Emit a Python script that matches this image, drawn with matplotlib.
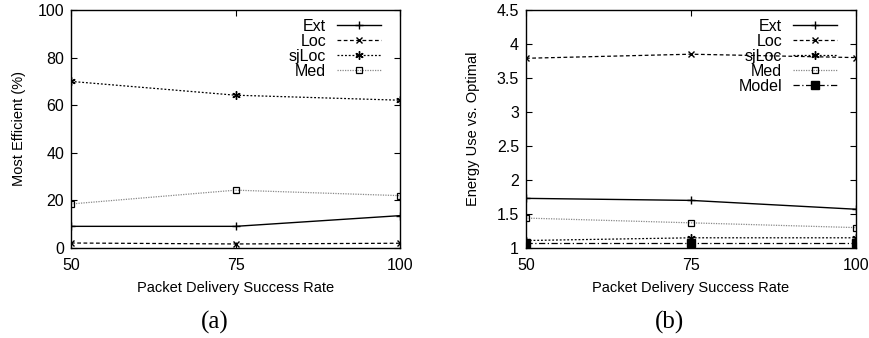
import matplotlib
matplotlib.use('Agg')
import matplotlib.pyplot as plt

rate = [50, 75, 100]

eff_ext = [9.1, 9.1, 13.6]
eff_loc = [2.1, 1.7, 2.0]
eff_sjloc = [70.0, 64.2, 62.1]
eff_med = [18.5, 24.3, 22.0]

en_ext = [1.73, 1.70, 1.57]
en_loc = [3.79, 3.85, 3.80]
en_sjloc = [1.11, 1.15, 1.15]
en_med = [1.44, 1.37, 1.30]
en_model = [1.07, 1.07, 1.07]

plt.rcParams['font.family'] = ['Liberation Sans', 'DejaVu Sans']
plt.rcParams['font.size'] = 10.5

fig = plt.figure(figsize=(8.7, 3.38), dpi=100)
ax1 = fig.add_axes([71/870, 1-248/338, 329/870, 238/338])
ax2 = fig.add_axes([526/870, 1-248/338, 330/870, 238/338])

styles = {
    'Ext': dict(color='black', ls='-', marker='+', ms=6, lw=1.0),
    'Loc': dict(color='black', ls=(0, (3, 2)), marker='x', ms=5, lw=0.9),
    'sjLoc': dict(color='black', ls=(0, (1.5, 1.5)), marker=(6, 2, 0), ms=6, lw=0.9),
    'Med': dict(color='#888888', ls=(0, (1, 1)), marker='s', ms=5, mfc='none', mec='black', mew=0.9, lw=0.9),
    'Model': dict(color='black', ls=(0, (5, 2, 1, 2)), marker='s', ms=6, lw=0.9),
}

ax1.plot(rate, eff_ext, label='Ext', **styles['Ext'])
ax1.plot(rate, eff_loc, label='Loc', **styles['Loc'])
ax1.plot(rate, eff_sjloc, label='sjLoc', **styles['sjLoc'])
ax1.plot(rate, eff_med, label='Med', **styles['Med'])
ax1.set_ylim(0, 100)
ax1.set_yticks([0, 20, 40, 60, 80, 100])
ax1.set_ylabel('Most Efficient (%)', labelpad=8)

ax2.plot(rate, en_ext, label='Ext', **styles['Ext'])
ax2.plot(rate, en_loc, label='Loc', **styles['Loc'])
ax2.plot(rate, en_sjloc, label='sjLoc', **styles['sjLoc'])
ax2.plot(rate, en_med, label='Med', **styles['Med'])
ax2.plot(rate, en_model, label='Model', **styles['Model'])
ax2.set_ylim(1, 4.5)
ax2.set_yticks([1, 1.5, 2, 2.5, 3, 3.5, 4, 4.5])
ax2.set_yticklabels(['1', '1.5', '2', '2.5', '3', '3.5', '4', '4.5'])
ax2.set_ylabel('Energy Use vs. Optimal', labelpad=12)

for ax, tag, tx in [(ax1, '(a)', 215), (ax2, '(b)', 670)]:
    ax.set_xlim(50, 100)
    ax.set_xticks(rate)
    ax.set_xlabel('Packet Delivery Success Rate', labelpad=6)
    ax.tick_params(direction='in', top=True, right=True, length=4, labelsize=11.5)
    ax.tick_params(axis='x', pad=7)
    ax.tick_params(axis='y', pad=5)
    for s in ax.spines.values():
        s.set_linewidth(1.0)
    leg = ax.legend(loc='upper right', frameon=False, markerfirst=False,
                    bbox_to_anchor=(1 - 13/329, 0.99), borderaxespad=0,
                    handlelength=2.7, labelspacing=0.0,
                    handletextpad=0.7, fontsize=11.5)
    for t in leg.get_texts():
        t.set_ha('right')
    fig.text(tx/870, 1 - 322/338, tag, ha='center', va='center',
             fontsize=18, family='Liberation Serif')

fig.savefig('out.png', dpi=100)
